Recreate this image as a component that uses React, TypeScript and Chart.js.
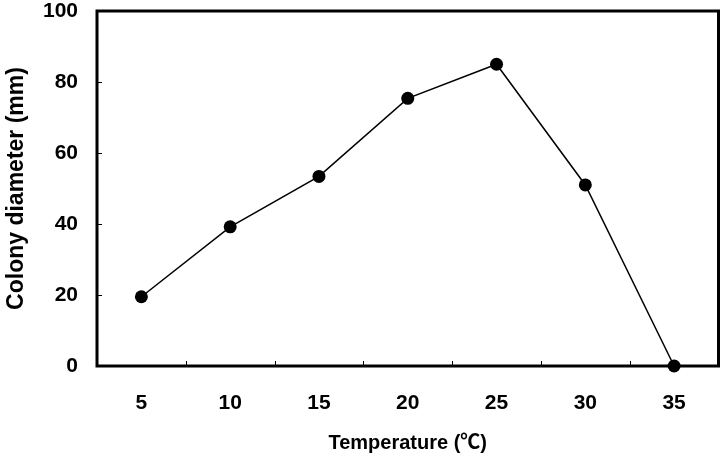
import { useEffect, useRef } from "react";
import { Chart, registerables } from "chart.js";

Chart.register(...registerables);

const temperatures = ["5", "10", "15", "20", "25", "30", "35"];
const colonyDiameter = [19.5, 39.2, 53.4, 75.4, 85, 51, 0];
const yTickValues = [0, 20, 40, 60, 80, 100];

const FONT = "Arial, 'Liberation Sans', 'Noto Sans CJK SC', sans-serif";

const framePlugin = {
  id: "frameAndTicks",
  afterDatasetsDraw(chart: any) {
    const { ctx, chartArea } = chart;
    const { left, right, top, bottom } = chartArea;
    const xs = chart.scales.x;
    const ys = chart.scales.y;
    ctx.save();
    ctx.strokeStyle = "#000";
    ctx.lineWidth = 1;
    yTickValues.forEach((v) => {
      const py = Math.round(ys.getPixelForValue(v)) + 0.5;
      ctx.beginPath();
      ctx.moveTo(left, py);
      ctx.lineTo(left + 5, py);
      ctx.stroke();
    });
    for (let i = 0; i < temperatures.length - 1; i++) {
      const px = Math.round((xs.getPixelForValue(i) + xs.getPixelForValue(i + 1)) / 2) + 0.5;
      ctx.beginPath();
      ctx.moveTo(px, bottom);
      ctx.lineTo(px, bottom - 5);
      ctx.stroke();
    }
    ctx.lineWidth = 3;
    ctx.beginPath();
    ctx.moveTo(left, top);
    ctx.lineTo(right, top);
    ctx.lineTo(right, bottom);
    ctx.lineTo(left, bottom);
    ctx.closePath();
    ctx.stroke();
    ctx.restore();
  },
};

export default function App() {
  const ref = useRef<HTMLCanvasElement>(null);
  useEffect(() => {
    document.body.style.margin = "0";
    const canvas = ref.current;
    if (!canvas) return;
    const chart = new Chart(canvas, {
      type: "line",
      data: {
        labels: temperatures,
        datasets: [
          {
            data: colonyDiameter,
            borderColor: "#000",
            backgroundColor: "#000",
            borderWidth: 1.5,
            pointRadius: 6.5,
            pointBackgroundColor: "#000",
            pointBorderColor: "#000",
            pointBorderWidth: 0,
            tension: 0,
            clip: false as any,
          },
        ],
      },
      options: {
        responsive: false,
        animation: false,
        layout: { padding: { top: 11, right: 3, left: 0, bottom: 0 } },
        plugins: {
          legend: { display: false },
          tooltip: { enabled: false },
        },
        scales: {
          x: {
            type: "category",
            offset: true,
            grid: { display: false, drawTicks: false },
            border: { display: false },
            ticks: {
              color: "#000",
              padding: 25,
              font: { family: FONT, size: 21, weight: "bold" },
            },
            title: {
              display: true,
              text: "Temperature (℃)",
              color: "#000",
              font: { family: FONT, size: 20, weight: "bold" },
              padding: { top: 0, bottom: 1 },
            },
            afterFit(scale: any) {
              scale.height = 90;
              scale.paddingLeft = 0;
              scale.paddingRight = 0;
            },
          },
          y: {
            min: 0,
            max: 100,
            grid: { display: false, drawTicks: false },
            border: { display: false },
            afterBuildTicks(scale: any) {
              scale.ticks = yTickValues.map((v) => ({ value: v }));
            },
            ticks: {
              color: "#000",
              padding: 19,
              font: { family: FONT, size: 21, weight: "bold" },
            },
            title: {
              display: true,
              text: "Colony diameter (mm)",
              color: "#000",
              font: { family: FONT, size: 23, weight: "bold" },
              padding: { top: 3, bottom: 0 },
            },
            afterFit(scale: any) {
              scale.width = 97;
              scale.paddingTop = 0;
              scale.paddingBottom = 0;
            },
          },
        },
      },
      plugins: [framePlugin],
    });
    return () => chart.destroy();
  }, []);
  return (
    <div style={{ width: 725, height: 456, background: "#fff" }}>
      <canvas ref={ref} width={725} height={456} />
    </div>
  );
}
